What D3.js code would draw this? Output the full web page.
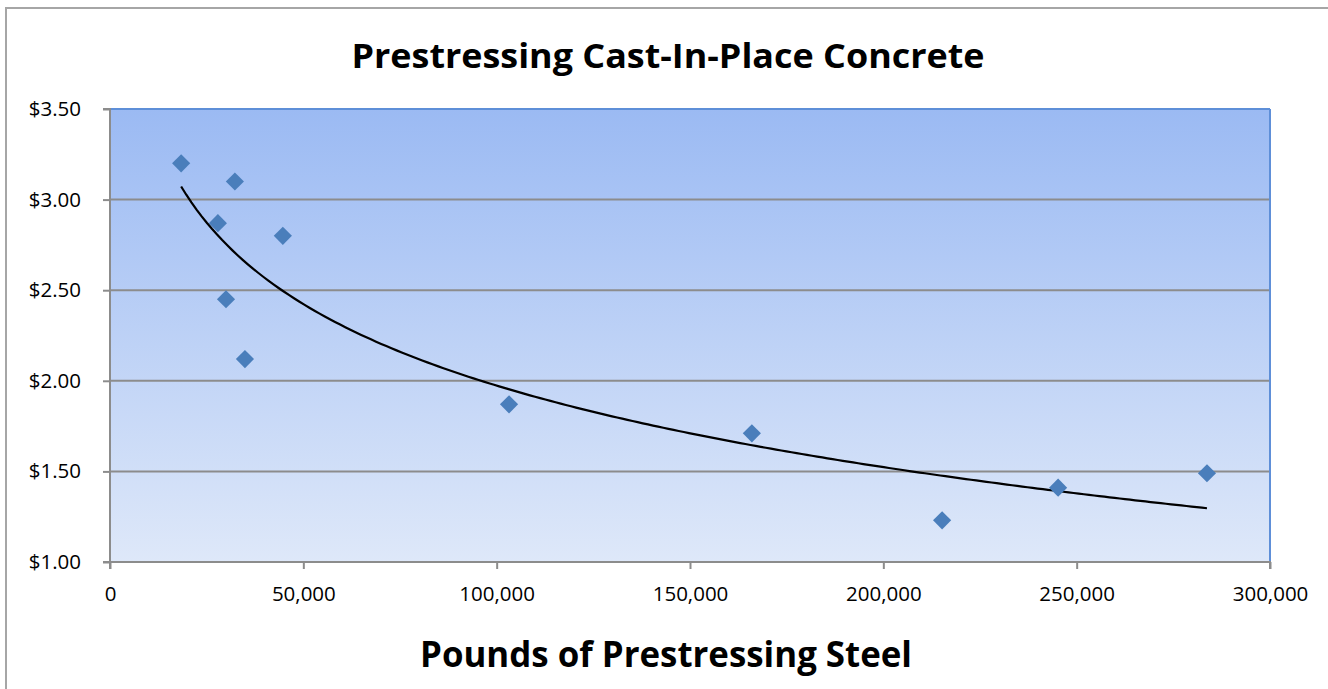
<!DOCTYPE html>
<html>
<head>
<meta charset="utf-8">
<script src="https://cdn.jsdelivr.net/npm/d3@7"></script>
<style>
html,body{margin:0;padding:0;background:#fff;}
svg{display:block;}
text{font-family:"Open Sans","DejaVu Sans",sans-serif;}
</style>
</head>
<body>
<svg id="chart" width="1328" height="689"></svg>
<script>
// ---- data ----
const steelPounds = [18400, 32300, 27900, 44700, 30000, 34900, 103200, 166000, 215200, 245200, 283700];
const costPerUnit = [3.20, 3.10, 2.87, 2.80, 2.45, 2.12, 1.87, 1.71, 1.23, 1.41, 1.49];
const xTicks = [0, 50000, 100000, 150000, 200000, 250000, 300000];
const yTicks = [1.00, 1.50, 2.00, 2.50, 3.00, 3.50];
const chartTitle = "Prestressing Cast-In-Place Concrete";
const xAxisTitle = "Pounds of Prestessing Steel".replace("Prestessing","Prestressing");

const svg = d3.select("#chart");
const W = 1328, H = 689;
const plot = {left:110, right:1270, top:109, bottom:562};

// outer chart border
svg.append("rect").attr("x",6).attr("y",8).attr("width",W+20).attr("height",H+20)
  .attr("fill","#fff").attr("stroke","#a6a6a6").attr("stroke-width",2);

const x = d3.scaleLinear().domain([0,300000]).range([plot.left, plot.right]);
const y = d3.scaleLinear().domain([1,3.5]).range([plot.bottom, plot.top]);

// gradient background
const defs = svg.append("defs");
const g = defs.append("linearGradient").attr("id","bg").attr("x1",0).attr("y1",0).attr("x2",0).attr("y2",1);
g.append("stop").attr("offset","0%").attr("stop-color","#9bbaf3");
g.append("stop").attr("offset","100%").attr("stop-color","#dee8f9");
svg.append("rect").attr("x",plot.left).attr("y",plot.top)
  .attr("width",plot.right-plot.left).attr("height",plot.bottom-plot.top).attr("fill","url(#bg)");

// gridlines
svg.append("g").selectAll("line").data(yTicks.filter(d=>d>1 && d<3.5)).join("line")
  .attr("x1",plot.left).attr("x2",plot.right).attr("y1",d=>y(d)).attr("y2",d=>y(d))
  .attr("stroke","#8c8c8c").attr("stroke-width",2);

// plot border top/right (blue)
svg.append("line").attr("x1",plot.left).attr("x2",plot.right).attr("y1",plot.top).attr("y2",plot.top)
  .attr("stroke","#5e8fd8").attr("stroke-width",2);
svg.append("line").attr("x1",plot.right).attr("x2",plot.right).attr("y1",plot.top).attr("y2",plot.bottom)
  .attr("stroke","#5e8fd8").attr("stroke-width",2);

// axes
const yAxis = d3.axisLeft(y).tickValues(yTicks).tickFormat(d=>"$"+d.toFixed(2)).tickSize(7).tickPadding(22);
const xAxis = d3.axisBottom(x).tickValues(xTicks).tickFormat(d3.format(",")).tickSize(7).tickPadding(17);
const ya = svg.append("g").attr("transform",`translate(${plot.left},0)`).call(yAxis);
const xa = svg.append("g").attr("transform",`translate(0,${plot.bottom})`).call(xAxis);
[ya,xa].forEach(a=>{
  a.select(".domain").attr("stroke","#8c8c8c").attr("stroke-width",2);
  a.selectAll(".tick line").attr("stroke","#8c8c8c").attr("stroke-width",2);
  a.selectAll(".tick text").attr("font-size",20.5).attr("fill","#000")
   .style("font-family",'"Open Sans",sans-serif');
});
ya.select(".domain").attr("d",`M-7,${plot.top}H0V${plot.bottom}H-7`);
xa.select(".domain").attr("d",`M${plot.left},7V0H${plot.right}V7`);

// logarithmic trendline (least squares on ln x)
const lx = steelPounds.map(v=>Math.log(v));
const mx = d3.mean(lx), my = d3.mean(costPerUnit);
const slope = d3.sum(lx.map((v,i)=>(v-mx)*(costPerUnit[i]-my))) / d3.sum(lx.map(v=>(v-mx)*(v-mx)));
const intercept = my - slope*mx;
const [xmin,xmax] = d3.extent(steelPounds);
const trendPts = d3.range(0,201).map(i=>{const xv = xmin + (xmax-xmin)*i/200; return [xv, intercept+slope*Math.log(xv)];});
svg.append("path").datum(trendPts)
  .attr("d", d3.line().x(d=>x(d[0])).y(d=>y(d[1])))
  .attr("fill","none").attr("stroke","#000").attr("stroke-width",2.2);

// markers (diamonds)
const sym = d3.symbol().type(d3.symbolSquare).size(165);
svg.append("g").selectAll("path").data(steelPounds.map((v,i)=>[v,costPerUnit[i]])).join("path")
  .attr("d",sym).attr("transform",d=>`translate(${x(d[0])},${y(d[1])}) rotate(45)`)
  .attr("fill","#4a7ebb");

// titles
function fitText(sel, w){ sel.attr("textLength",w).attr("lengthAdjust","spacingAndGlyphs"); }
const t = svg.append("text").attr("x",668).attr("y",68).attr("text-anchor","middle")
  .attr("font-size",34).attr("font-weight","bold").text(chartTitle);
fitText(t, 633);
const xt = svg.append("text").attr("x",666).attr("y",667).attr("text-anchor","middle")
  .attr("font-size",36).attr("font-weight","bold").text(xAxisTitle);
fitText(xt, 492);
</script>
</body>
</html>
